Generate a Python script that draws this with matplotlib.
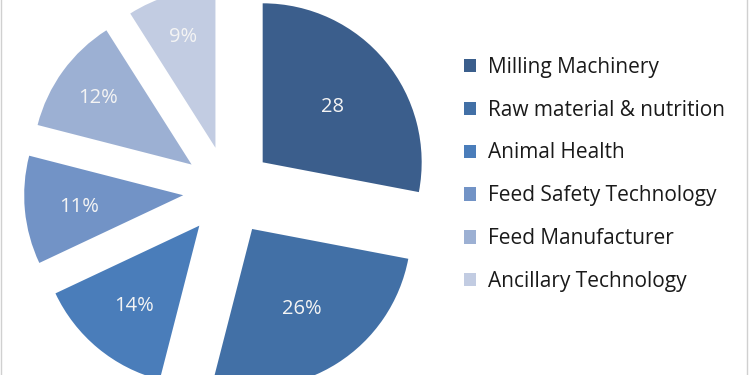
import numpy as np
import matplotlib.pyplot as plt

# data
labels = ["Milling Machinery", "Raw material & nutrition", "Animal Health",
          "Feed Safety Technology", "Feed Manufacturer", "Ancillary Technology"]
values = [28, 26, 14, 11, 12, 9]
pct_text = ["28", "26%", "14%", "11%", "12%", "9%"]
colors = ["#3b5e8c", "#4270a6", "#4a7dba", "#7293c6", "#9cb0d3", "#c2cce2"]
# how far out each label sits (fraction of radius), like Excel's best fit
label_dist = [0.57, 0.58, 0.64, 0.66, 0.73, 0.74]

plt.rcParams['font.family'] = ['Open Sans', 'DejaVu Sans']

fig = plt.figure(figsize=(7.5, 3.75), dpi=100)
ax = fig.add_axes([0, 0, 1, 1])

radius = 159
# explode is in data units here (pixels)
wedges, _ = ax.pie(values, colors=colors, startangle=90, counterclock=False,
                   radius=radius, center=(228, 184),
                   explode=[45] * len(values), frame=True)
ax.set_xlim(0, 750)
ax.set_ylim(0, 375)
ax.set_aspect('equal')
ax.axis('off')

# labels inside the slices
ang = 90.0
for w, t, v, d in zip(wedges, pct_text, values, label_dist):
    span = v / sum(values) * 360
    mid = np.deg2rad(ang - span / 2)
    ang -= span
    cx, cy = w.center
    ax.text(cx + d * radius * np.cos(mid), cy + d * radius * np.sin(mid) - 2, t,
            ha='center', va='center', color='#f4f4f4', fontsize=14.5)

fig.legend(wedges, labels, loc='upper left', bbox_to_anchor=(445 / 750, 1 - 38 / 375),
           frameon=False, fontsize=15, handlelength=0.6, handleheight=0.6,
           handletextpad=0.55, labelspacing=1.05, labelcolor='#1a1a1a')

# faint frame edges at the sides
ax.plot([1, 1], [0, 375], color='#d0d0d0', lw=1)
ax.plot([747, 747], [0, 375], color='#d0d0d0', lw=1)

fig.savefig("out.png", dpi=100)
